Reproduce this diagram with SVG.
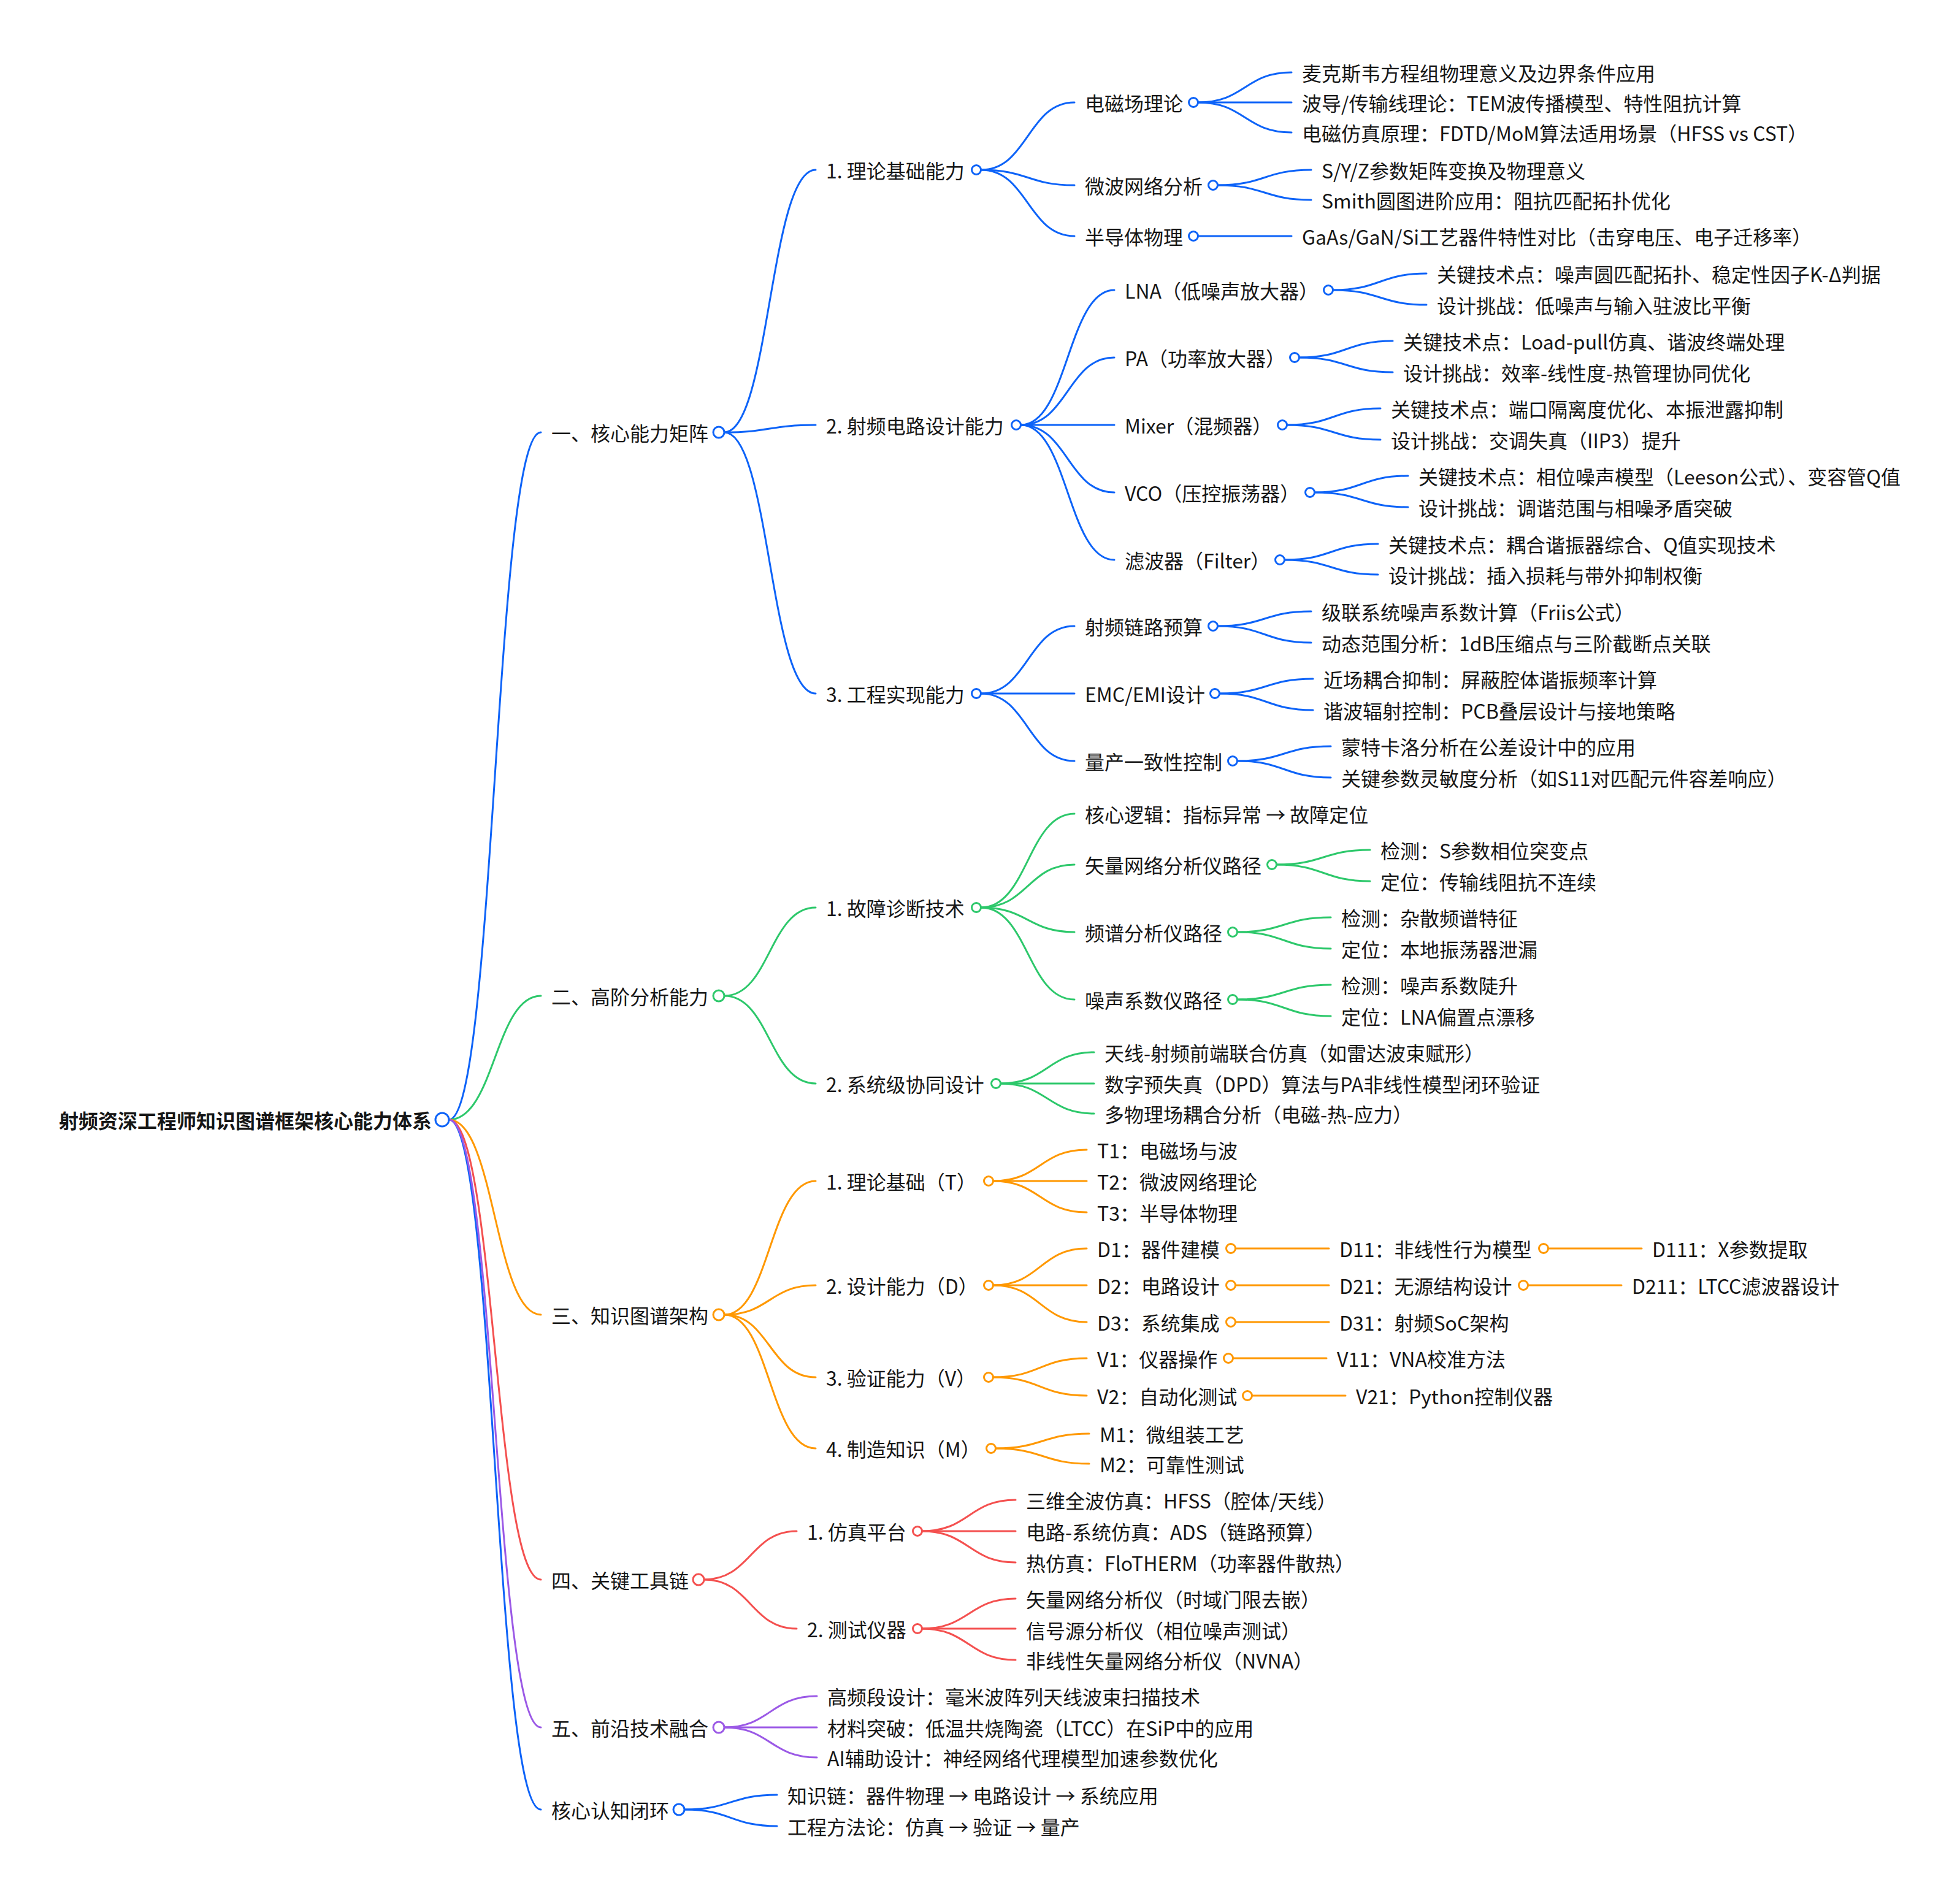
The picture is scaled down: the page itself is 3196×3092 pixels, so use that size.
<svg xmlns="http://www.w3.org/2000/svg" width="3196" height="3092" viewBox="0 0 3196 3092">
<style>
text{font-family:"Noto Sans CJK SC","Noto Sans",sans-serif;font-size:32px;fill:#161616;dominant-baseline:central}
.root{font-weight:bold;text-anchor:end}
path{fill:none;stroke-width:3;stroke-linecap:round}
circle{fill:#fff;stroke-width:3}
.b path,path.b{stroke:#0d63f8}.b circle,circle.b{stroke:#0d63f8}
.g path{stroke:#2dc86b}.g circle{stroke:#2dc86b}
.o path{stroke:#ff9800}.o circle{stroke:#ff9800}
.r path{stroke:#f4504f}.r circle{stroke:#f4504f}
.p path{stroke:#9b59e6}.p circle{stroke:#9b59e6}
</style>
<rect width="3196" height="3092" fill="#fff"/>
<g id="connectors">
<g class="b">
<path d="M732,1826 C807,1826 807,705 882,705"/>
<path d="M732,1826 C807,1826 807,2951 882,2951"/>
<path d="M1181,705 C1255,705 1255,277 1330,277"/>
<path d="M1181,705 C1255,705 1255,693 1330,693"/>
<path d="M1181,705 C1255,705 1255,1131 1330,1131"/>
<path d="M1599.5,277 C1676,277 1676,167 1752,167"/>
<path d="M1599.5,277 C1676,277 1676,302 1752,302"/>
<path d="M1599.5,277 C1676,277 1676,385 1752,385"/>
<path d="M1953.5,167 C2030,167 2030,118 2106,118"/>
<path d="M1953.5,167 L2106,167"/>
<path d="M1953.5,167 C2030,167 2030,216 2106,216"/>
<path d="M1985.5,302 C2062,302 2062,277 2138,277"/>
<path d="M1985.5,302 C2062,302 2062,326 2138,326"/>
<path d="M1953.5,385 L2106,385"/>
<path d="M1664.5,693 C1741,693 1741,473 1817,473"/>
<path d="M1664.5,693 C1741,693 1741,583 1817,583"/>
<path d="M1664.5,693 L1817,693"/>
<path d="M1664.5,693 C1741,693 1741,803 1817,803"/>
<path d="M1664.5,693 C1741,693 1741,913 1817,913"/>
<path d="M2173.5,473 C2250,473 2250,446 2326,446"/>
<path d="M2173.5,473 C2250,473 2250,497 2326,497"/>
<path d="M2118.5,583 C2195,583 2195,556 2271,556"/>
<path d="M2118.5,583 C2195,583 2195,607 2271,607"/>
<path d="M2098.5,693 C2175,693 2175,666 2251,666"/>
<path d="M2098.5,693 C2175,693 2175,717 2251,717"/>
<path d="M2143.5,803 C2220,803 2220,776 2296,776"/>
<path d="M2143.5,803 C2220,803 2220,827 2296,827"/>
<path d="M2094.5,913 C2171,913 2171,887 2247,887"/>
<path d="M2094.5,913 C2171,913 2171,937 2247,937"/>
<path d="M1599.5,1131 C1676,1131 1676,1021 1752,1021"/>
<path d="M1599.5,1131 L1752,1131"/>
<path d="M1599.5,1131 C1676,1131 1676,1241 1752,1241"/>
<path d="M1985.5,1021 C2062,1021 2062,997 2138,997"/>
<path d="M1985.5,1021 C2062,1021 2062,1048 2138,1048"/>
<path d="M1988.5,1131 C2065,1131 2065,1107 2141,1107"/>
<path d="M1988.5,1131 C2065,1131 2065,1158 2141,1158"/>
<path d="M2017.5,1241 C2094,1241 2094,1217 2170,1217"/>
<path d="M2017.5,1241 C2094,1241 2094,1268 2170,1268"/>
<path d="M1116,2951 C1192,2951 1192,2927 1267,2927"/>
<path d="M1116,2951 C1192,2951 1192,2978 1267,2978"/>
</g>
<g class="g">
<path d="M732,1826 C807,1826 807,1624 882,1624"/>
<path d="M1181,1624 C1255,1624 1255,1480 1330,1480"/>
<path d="M1181,1624 C1255,1624 1255,1767 1330,1767"/>
<path d="M1599.5,1480 C1676,1480 1676,1327 1752,1327"/>
<path d="M1599.5,1480 C1676,1480 1676,1410 1752,1410"/>
<path d="M1599.5,1480 C1676,1480 1676,1520 1752,1520"/>
<path d="M1599.5,1480 C1676,1480 1676,1630 1752,1630"/>
<path d="M2081.5,1410 C2158,1410 2158,1386 2234,1386"/>
<path d="M2081.5,1410 C2158,1410 2158,1437 2234,1437"/>
<path d="M2017.5,1520 C2094,1520 2094,1496 2170,1496"/>
<path d="M2017.5,1520 C2094,1520 2094,1547 2170,1547"/>
<path d="M2017.5,1630 C2094,1630 2094,1606 2170,1606"/>
<path d="M2017.5,1630 C2094,1630 2094,1657 2170,1657"/>
<path d="M1631.5,1767 C1708,1767 1708,1716 1784,1716"/>
<path d="M1631.5,1767 L1784,1767"/>
<path d="M1631.5,1767 C1708,1767 1708,1816 1784,1816"/>
</g>
<g class="o">
<path d="M732,1826 C807,1826 807,2144 882,2144"/>
<path d="M1181,2144 C1255,2144 1255,1926 1330,1926"/>
<path d="M1181,2144 C1255,2144 1255,2096 1330,2096"/>
<path d="M1181,2144 C1255,2144 1255,2246 1330,2246"/>
<path d="M1181,2144 C1255,2144 1255,2362 1330,2362"/>
<path d="M1619.5,1926 C1696,1926 1696,1875 1772,1875"/>
<path d="M1619.5,1926 L1772,1926"/>
<path d="M1619.5,1926 C1696,1926 1696,1977 1772,1977"/>
<path d="M1619.5,2096 C1696,2096 1696,2036 1772,2036"/>
<path d="M1619.5,2096 L1772,2096"/>
<path d="M1619.5,2096 C1696,2096 1696,2156 1772,2156"/>
<path d="M2014.5,2036 L2167,2036"/>
<path d="M2524.5,2036 L2677,2036"/>
<path d="M2014.5,2096 L2167,2096"/>
<path d="M2491.5,2096 L2644,2096"/>
<path d="M2014.5,2156 L2167,2156"/>
<path d="M1619.5,2246 C1696,2246 1696,2215 1772,2215"/>
<path d="M1619.5,2246 C1696,2246 1696,2276 1772,2276"/>
<path d="M2010.5,2215 L2163,2215"/>
<path d="M2041.5,2276 L2194,2276"/>
<path d="M1623.5,2362 C1700,2362 1700,2338 1776,2338"/>
<path d="M1623.5,2362 C1700,2362 1700,2387 1776,2387"/>
</g>
<g class="r">
<path d="M732,1826 C807,1826 807,2576 882,2576"/>
<path d="M1148,2576 C1224,2576 1224,2497 1299,2497"/>
<path d="M1148,2576 C1224,2576 1224,2656 1299,2656"/>
<path d="M1503.5,2497 C1580,2497 1580,2446 1656,2446"/>
<path d="M1503.5,2497 L1656,2497"/>
<path d="M1503.5,2497 C1580,2497 1580,2548 1656,2548"/>
<path d="M1503.5,2656 C1580,2656 1580,2607 1656,2607"/>
<path d="M1503.5,2656 L1656,2656"/>
<path d="M1503.5,2656 C1580,2656 1580,2707 1656,2707"/>
</g>
<g class="p">
<path d="M732,1826 C807,1826 807,2817 882,2817"/>
<path d="M1181,2817 C1256,2817 1256,2766 1332,2766"/>
<path d="M1181,2817 L1332,2817"/>
<path d="M1181,2817 C1256,2817 1256,2866 1332,2866"/>
</g>
</g>

<g id="root" class="b"><text class="root" x="704" y="1826">射频资深工程师知识图谱框架核心能力体系</text><circle cx="721" cy="1826" r="11"/></g>

<g id="n1" class="b"><text x="899" y="705">一、核心能力矩阵</text><circle cx="1172" cy="705" r="9"/></g>
<g id="n1-1" class="b"><text x="1347" y="277">1. 理论基础能力</text><circle cx="1592" cy="277" r="7.5"/></g>
<g id="n1-1-1" class="b"><text x="1769" y="167">电磁场理论</text><circle cx="1946" cy="167" r="7.5"/></g>
<g id="n1-1-1-1"><text x="2123" y="118">麦克斯韦方程组物理意义及边界条件应用</text></g>
<g id="n1-1-1-2"><text x="2123" y="167">波导/传输线理论：TEM波传播模型、特性阻抗计算</text></g>
<g id="n1-1-1-3"><text x="2123" y="216">电磁仿真原理：FDTD/MoM算法适用场景（HFSS vs CST）</text></g>
<g id="n1-1-2" class="b"><text x="1769" y="302">微波网络分析</text><circle cx="1978" cy="302" r="7.5"/></g>
<g id="n1-1-2-1"><text x="2155" y="277">S/Y/Z参数矩阵变换及物理意义</text></g>
<g id="n1-1-2-2"><text x="2155" y="326">Smith圆图进阶应用：阻抗匹配拓扑优化</text></g>
<g id="n1-1-3" class="b"><text x="1769" y="385">半导体物理</text><circle cx="1946" cy="385" r="7.5"/></g>
<g id="n1-1-3-1"><text x="2123" y="385">GaAs/GaN/Si工艺器件特性对比（击穿电压、电子迁移率）</text></g>

<g id="n1-2" class="b"><text x="1347" y="693">2. 射频电路设计能力</text><circle cx="1657" cy="693" r="7.5"/></g>
<g id="n1-2-1" class="b"><text x="1834" y="473">LNA（低噪声放大器）</text><circle cx="2166" cy="473" r="7.5"/></g>
<g id="n1-2-1-1"><text x="2343" y="446">关键技术点：噪声圆匹配拓扑、稳定性因子K-Δ判据</text></g>
<g id="n1-2-1-2"><text x="2343" y="497">设计挑战：低噪声与输入驻波比平衡</text></g>
<g id="n1-2-2" class="b"><text x="1834" y="583">PA（功率放大器）</text><circle cx="2111" cy="583" r="7.5"/></g>
<g id="n1-2-2-1"><text x="2288" y="556">关键技术点：Load-pull仿真、谐波终端处理</text></g>
<g id="n1-2-2-2"><text x="2288" y="607">设计挑战：效率-线性度-热管理协同优化</text></g>
<g id="n1-2-3" class="b"><text x="1834" y="693">Mixer（混频器）</text><circle cx="2091" cy="693" r="7.5"/></g>
<g id="n1-2-3-1"><text x="2268" y="666">关键技术点：端口隔离度优化、本振泄露抑制</text></g>
<g id="n1-2-3-2"><text x="2268" y="717">设计挑战：交调失真（IIP3）提升</text></g>
<g id="n1-2-4" class="b"><text x="1834" y="803">VCO（压控振荡器）</text><circle cx="2136" cy="803" r="7.5"/></g>
<g id="n1-2-4-1"><text x="2313" y="776">关键技术点：相位噪声模型（Leeson公式）、变容管Q值</text></g>
<g id="n1-2-4-2"><text x="2313" y="827">设计挑战：调谐范围与相噪矛盾突破</text></g>
<g id="n1-2-5" class="b"><text x="1834" y="913">滤波器（Filter）</text><circle cx="2087" cy="913" r="7.5"/></g>
<g id="n1-2-5-1"><text x="2264" y="887">关键技术点：耦合谐振器综合、Q值实现技术</text></g>
<g id="n1-2-5-2"><text x="2264" y="937">设计挑战：插入损耗与带外抑制权衡</text></g>

<g id="n1-3" class="b"><text x="1347" y="1131">3. 工程实现能力</text><circle cx="1592" cy="1131" r="7.5"/></g>
<g id="n1-3-1" class="b"><text x="1769" y="1021">射频链路预算</text><circle cx="1978" cy="1021" r="7.5"/></g>
<g id="n1-3-1-1"><text x="2155" y="997">级联系统噪声系数计算（Friis公式）</text></g>
<g id="n1-3-1-2"><text x="2155" y="1048">动态范围分析：1dB压缩点与三阶截断点关联</text></g>
<g id="n1-3-2" class="b"><text x="1769" y="1131">EMC/EMI设计</text><circle cx="1981" cy="1131" r="7.5"/></g>
<g id="n1-3-2-1"><text x="2158" y="1107">近场耦合抑制：屏蔽腔体谐振频率计算</text></g>
<g id="n1-3-2-2"><text x="2158" y="1158">谐波辐射控制：PCB叠层设计与接地策略</text></g>
<g id="n1-3-3" class="b"><text x="1769" y="1241">量产一致性控制</text><circle cx="2010" cy="1241" r="7.5"/></g>
<g id="n1-3-3-1"><text x="2187" y="1217">蒙特卡洛分析在公差设计中的应用</text></g>
<g id="n1-3-3-2"><text x="2187" y="1268">关键参数灵敏度分析（如S11对匹配元件容差响应）</text></g>

<g id="n2" class="g"><text x="899" y="1624">二、高阶分析能力</text><circle cx="1172" cy="1624" r="9"/></g>
<g id="n2-1" class="g"><text x="1347" y="1480">1. 故障诊断技术</text><circle cx="1592" cy="1480" r="7.5"/></g>
<g id="n2-1-1"><text x="1769" y="1327">核心逻辑：指标异常 → 故障定位</text></g>
<g id="n2-1-2" class="g"><text x="1769" y="1410">矢量网络分析仪路径</text><circle cx="2074" cy="1410" r="7.5"/></g>
<g id="n2-1-2-1"><text x="2251" y="1386">检测：S参数相位突变点</text></g>
<g id="n2-1-2-2"><text x="2251" y="1437">定位：传输线阻抗不连续</text></g>
<g id="n2-1-3" class="g"><text x="1769" y="1520">频谱分析仪路径</text><circle cx="2010" cy="1520" r="7.5"/></g>
<g id="n2-1-3-1"><text x="2187" y="1496">检测：杂散频谱特征</text></g>
<g id="n2-1-3-2"><text x="2187" y="1547">定位：本地振荡器泄漏</text></g>
<g id="n2-1-4" class="g"><text x="1769" y="1630">噪声系数仪路径</text><circle cx="2010" cy="1630" r="7.5"/></g>
<g id="n2-1-4-1"><text x="2187" y="1606">检测：噪声系数陡升</text></g>
<g id="n2-1-4-2"><text x="2187" y="1657">定位：LNA偏置点漂移</text></g>
<g id="n2-2" class="g"><text x="1347" y="1767">2. 系统级协同设计</text><circle cx="1624" cy="1767" r="7.5"/></g>
<g id="n2-2-1"><text x="1801" y="1716">天线-射频前端联合仿真（如雷达波束赋形）</text></g>
<g id="n2-2-2"><text x="1801" y="1767">数字预失真（DPD）算法与PA非线性模型闭环验证</text></g>
<g id="n2-2-3"><text x="1801" y="1816">多物理场耦合分析（电磁-热-应力）</text></g>

<g id="n3" class="o"><text x="899" y="2144">三、知识图谱架构</text><circle cx="1172" cy="2144" r="9"/></g>
<g id="n3-1" class="o"><text x="1347" y="1926">1. 理论基础（T）</text><circle cx="1612" cy="1926" r="7.5"/></g>
<g id="n3-1-1"><text x="1789" y="1875">T1：电磁场与波</text></g>
<g id="n3-1-2"><text x="1789" y="1926">T2：微波网络理论</text></g>
<g id="n3-1-3"><text x="1789" y="1977">T3：半导体物理</text></g>
<g id="n3-2" class="o"><text x="1347" y="2096">2. 设计能力（D）</text><circle cx="1612" cy="2096" r="7.5"/></g>
<g id="n3-2-1" class="o"><text x="1789" y="2036">D1：器件建模</text><circle cx="2007" cy="2036" r="7.5"/></g>
<g id="n3-2-1-1" class="o"><text x="2184" y="2036">D11：非线性行为模型</text><circle cx="2517" cy="2036" r="7.5"/></g>
<g id="n3-2-1-1-1"><text x="2694" y="2036">D111：X参数提取</text></g>
<g id="n3-2-2" class="o"><text x="1789" y="2096">D2：电路设计</text><circle cx="2007" cy="2096" r="7.5"/></g>
<g id="n3-2-2-1" class="o"><text x="2184" y="2096">D21：无源结构设计</text><circle cx="2484" cy="2096" r="7.5"/></g>
<g id="n3-2-2-1-1"><text x="2661" y="2096">D211：LTCC滤波器设计</text></g>
<g id="n3-2-3" class="o"><text x="1789" y="2156">D3：系统集成</text><circle cx="2007" cy="2156" r="7.5"/></g>
<g id="n3-2-3-1"><text x="2184" y="2156">D31：射频SoC架构</text></g>
<g id="n3-3" class="o"><text x="1347" y="2246">3. 验证能力（V）</text><circle cx="1612" cy="2246" r="7.5"/></g>
<g id="n3-3-1" class="o"><text x="1789" y="2215">V1：仪器操作</text><circle cx="2003" cy="2215" r="7.5"/></g>
<g id="n3-3-1-1"><text x="2180" y="2215">V11：VNA校准方法</text></g>
<g id="n3-3-2" class="o"><text x="1789" y="2276">V2：自动化测试</text><circle cx="2034" cy="2276" r="7.5"/></g>
<g id="n3-3-2-1"><text x="2211" y="2276">V21：Python控制仪器</text></g>
<g id="n3-4" class="o"><text x="1347" y="2362">4. 制造知识（M）</text><circle cx="1616" cy="2362" r="7.5"/></g>
<g id="n3-4-1"><text x="1793" y="2338">M1：微组装工艺</text></g>
<g id="n3-4-2"><text x="1793" y="2387">M2：可靠性测试</text></g>

<g id="n4" class="r"><text x="899" y="2576">四、关键工具链</text><circle cx="1139" cy="2576" r="9"/></g>
<g id="n4-1" class="r"><text x="1316" y="2497">1. 仿真平台</text><circle cx="1496" cy="2497" r="7.5"/></g>
<g id="n4-1-1"><text x="1673" y="2446">三维全波仿真：HFSS（腔体/天线）</text></g>
<g id="n4-1-2"><text x="1673" y="2497">电路-系统仿真：ADS（链路预算）</text></g>
<g id="n4-1-3"><text x="1673" y="2548">热仿真：FloTHERM（功率器件散热）</text></g>
<g id="n4-2" class="r"><text x="1316" y="2656">2. 测试仪器</text><circle cx="1496" cy="2656" r="7.5"/></g>
<g id="n4-2-1"><text x="1673" y="2607">矢量网络分析仪（时域门限去嵌）</text></g>
<g id="n4-2-2"><text x="1673" y="2658">信号源分析仪（相位噪声测试）</text></g>
<g id="n4-2-3"><text x="1673" y="2707">非线性矢量网络分析仪（NVNA）</text></g>

<g id="n5" class="p"><text x="899" y="2817">五、前沿技术融合</text><circle cx="1172" cy="2817" r="9"/></g>
<g id="n5-1"><text x="1349" y="2766">高频段设计：毫米波阵列天线波束扫描技术</text></g>
<g id="n5-2"><text x="1349" y="2817">材料突破：低温共烧陶瓷（LTCC）在SiP中的应用</text></g>
<g id="n5-3"><text x="1349" y="2866">AI辅助设计：神经网络代理模型加速参数优化</text></g>

<g id="n6" class="b"><text x="899" y="2951">核心认知闭环</text><circle cx="1107" cy="2951" r="9"/></g>
<g id="n6-1"><text x="1284" y="2927">知识链：器件物理 → 电路设计 → 系统应用</text></g>
<g id="n6-2"><text x="1284" y="2978">工程方法论：仿真 → 验证 → 量产</text></g>
</svg>
